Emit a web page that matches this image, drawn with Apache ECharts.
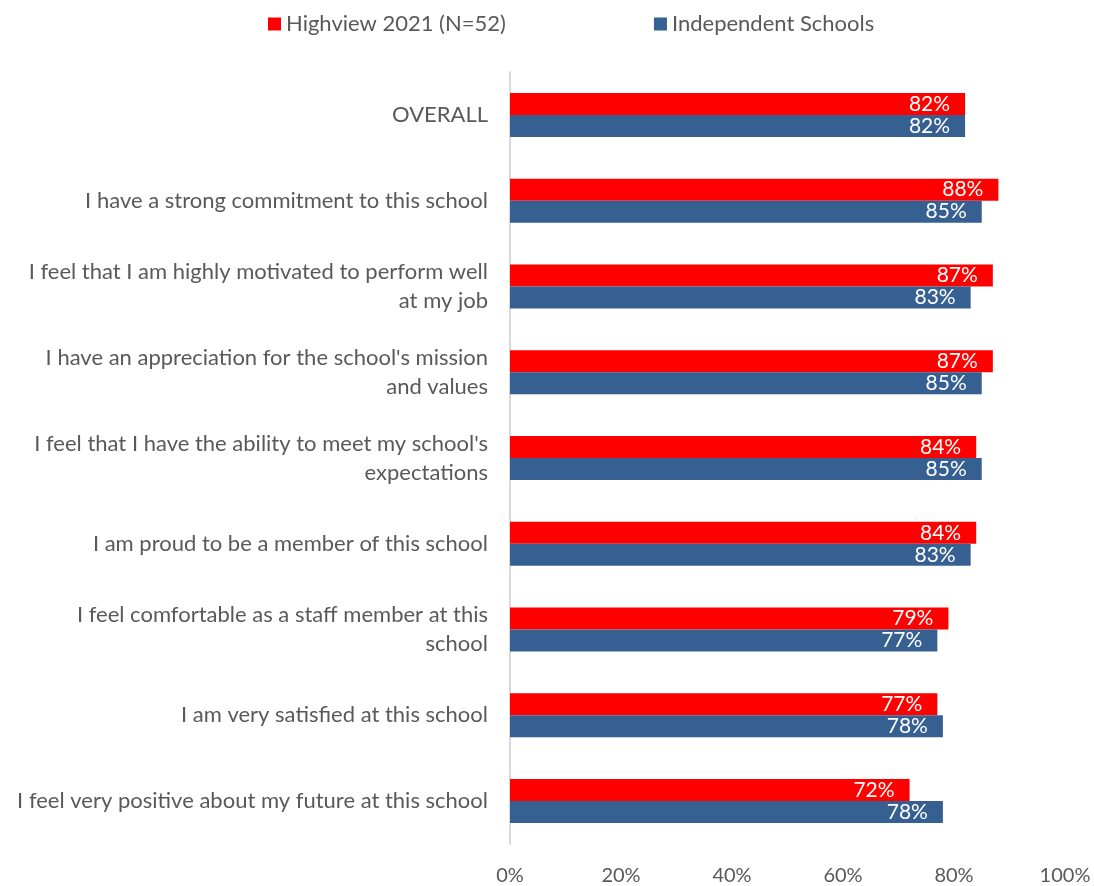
<!DOCTYPE html>
<html>
<head>
<meta charset="utf-8">
<script src="https://cdn.jsdelivr.net/npm/echarts@6/dist/echarts.min.js"></script>
<style>
  html, body { margin: 0; padding: 0; background: #fff; }
  #chart { width: 1094px; height: 886px; }
</style>
</head>
<body>
<div id="chart"></div>
<script>
// Survey statements, top to bottom
const categories = [
  "OVERALL",
  "I have a strong commitment to this school",
  "I feel that I am highly motivated to perform well\nat my job",
  "I have an appreciation for the school's mission\nand values",
  "I feel that I have the ability to meet my school's\nexpectations",
  "I am proud to be a member of this school",
  "I feel comfortable as a staff member at this\nschool",
  "I am very satisfied at this school",
  "I feel very positive about my future at this school"
];
const highviewValues = [82, 88, 87, 87, 84, 84, 79, 77, 72];
const independentValues = [82, 85, 83, 85, 85, 83, 77, 78, 78];
const seriesNames = ["Highview 2021 (N=52)", "Independent Schools"];
const xTicks = [0, 20, 40, 60, 80, 100];

const FONT = "Lato, 'Noto Sans', sans-serif";
const TEXT = "#595959";

const chart = echarts.init(document.getElementById('chart'), null, { renderer: 'canvas' });

const labelStyle = {
  show: true,
  position: 'insideRight',
  distance: 15,
  color: '#ffffff',
  fontFamily: FONT,
  fontSize: 21,
  formatter: p => p.value + '%'
};

chart.setOption({
  animation: false,
  backgroundColor: '#ffffff',
  legend: {
    top: 8,
    left: 263,
    itemGap: 148,
    itemWidth: 13,
    itemHeight: 13,
    icon: 'rect',
    textStyle: { color: TEXT, fontFamily: FONT, fontSize: 22 },
    data: seriesNames
  },
  grid: { left: 510, right: 29, top: 72, bottom: 41, containLabel: false },
  xAxis: {
    type: 'value',
    min: 0,
    max: 100,
    interval: 20,
    axisLine: { show: false },
    axisTick: { show: false },
    splitLine: { show: false },
    axisLabel: {
      color: TEXT,
      fontFamily: FONT,
      fontSize: 20,
      margin: 22,
      formatter: v => (xTicks.includes(v) ? v + '%' : '')
    }
  },
  yAxis: {
    type: 'category',
    inverse: true,
    data: categories,
    axisLine: { show: true, lineStyle: { color: '#d9d9d9', width: 2 } },
    axisTick: { show: false },
    axisLabel: {
      color: TEXT,
      fontFamily: FONT,
      fontSize: 22,
      margin: 22,
      lineHeight: 29,
      align: 'right'
    }
  },
  series: [
    {
      name: seriesNames[0],
      type: 'bar',
      data: highviewValues,
      barWidth: 22,
      barGap: '0%',
      barCategoryGap: '49%',
      itemStyle: { color: '#ff0000' },
      label: labelStyle
    },
    {
      name: seriesNames[1],
      type: 'bar',
      data: independentValues,
      barWidth: 22,
      itemStyle: { color: '#376092' },
      label: labelStyle
    }
  ]
});
</script>
</body>
</html>
